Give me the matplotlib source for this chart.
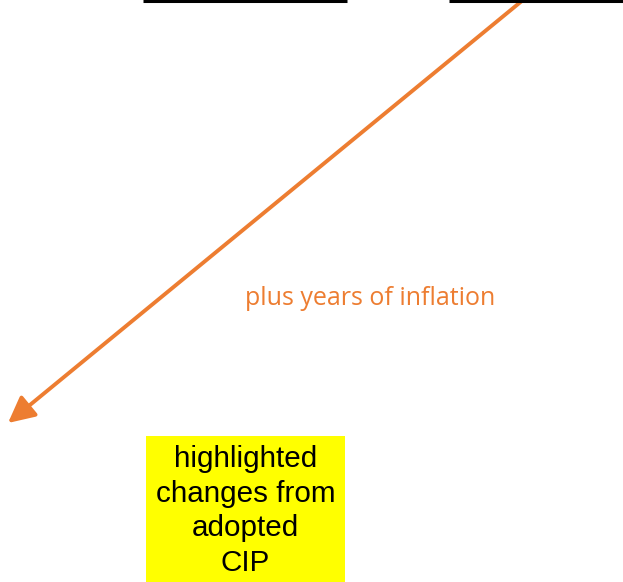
import matplotlib
matplotlib.use("Agg")
import matplotlib.pyplot as plt
from matplotlib.patches import FancyArrowPatch, Rectangle

W, H = 623, 582
DPI = 100

# Diagram content
top_rule_x0 = [143, 449]
top_rule_x1 = [347, 623]
arrow_start = (523, 0)
arrow_end = (8, 423)
inflation_label = "plus years of inflation"
box_label = "highlighted\nchanges from\nadopted\nCIP"

ORANGE = "#ED7D31"
YELLOW = "#FFFF00"

fig = plt.figure(figsize=(W / DPI, H / DPI), dpi=DPI)
ax = fig.add_axes([0, 0, 1, 1])
ax.set_xlim(0, W)
ax.set_ylim(H, 0)
ax.axis("off")

for x0, x1 in zip(top_rule_x0, top_rule_x1):
    ax.plot([x0, x1], [1, 1], color="black", lw=2.2, solid_capstyle="butt")

arr = FancyArrowPatch(arrow_start, arrow_end, arrowstyle="-|>,head_length=16,head_width=8",
                      color=ORANGE, lw=2.8, mutation_scale=1, shrinkA=0, shrinkB=0)
ax.add_patch(arr)

ax.text(370.5, 298.5, inflation_label, color=ORANGE, fontsize=18,
        family=["Open Sans", "DejaVu Sans"], ha="center", va="center")

ax.add_patch(Rectangle((146, 436), 199, 146, facecolor=YELLOW, edgecolor="none"))
ax.text(245.5, 511, box_label, color="black", fontsize=21.3,
        family=["Liberation Sans", "DejaVu Sans"], ha="center", va="center",
        linespacing=1.29)

fig.savefig("out.png", dpi=DPI)
